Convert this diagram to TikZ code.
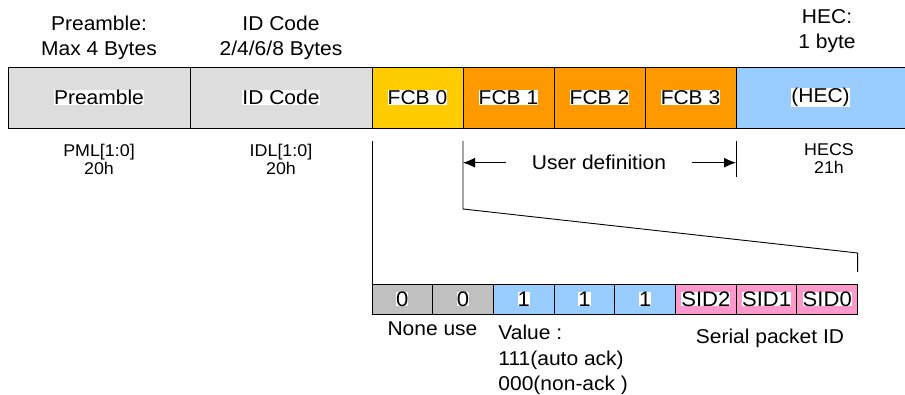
\documentclass[tikz,border=0pt]{standalone}
\usepackage{fontspec}
\setmainfont{Liberation Sans}[FakeStretch=1.05]
\usepackage{xcolor}
\usetikzlibrary{positioning,arrows.meta}

\definecolor{boxgray}{HTML}{DDDDDD}
\definecolor{bitgray}{HTML}{C0C0C0}
\definecolor{fcbyel}{HTML}{FFCC00}
\definecolor{fcborg}{HTML}{FF9900}
\definecolor{hecblue}{HTML}{99CCFF}
\definecolor{sidpink}{HTML}{FF99CC}
\newcommand{\wbg}[1]{{\setlength{\fboxsep}{0pt}\colorbox{white}{#1}}}

\begin{document}
\begin{tikzpicture}[
  x=1pt,y=-1pt,line width=0.9pt,
  field/.style={draw,inner sep=0pt,outer sep=0pt,minimum height=61pt,
  font=\fontsize{20}{24}\selectfont},
  bit/.style={draw,inner sep=0pt,outer sep=0pt,minimum width=60.7pt,
  minimum height=30pt,font=\fontsize{21}{24}\selectfont},
  head/.style={align=center,inner sep=0pt,anchor=north,
  font=\fontsize{20}{24.3}\selectfont},
  reg/.style={align=center,inner sep=0pt,anchor=north,
  font=\fontsize{17}{17.7}\selectfont},
  note/.style={inner sep=0pt,font=\fontsize{20}{25.4}\selectfont},
  arr/.style={-{Latex[length=12pt,width=10pt]}}
]
\useasboundingbox (0,0) rectangle (905,395);
% packet fields
\node[field,fill=boxgray,minimum width=182pt,anchor=north west] (pre) at (8,67) {\wbg{Preamble}};
\node[field,fill=boxgray,minimum width=182pt,right=0pt of pre] (idc) {\wbg{ID Code}};
\node[field,fill=fcbyel,minimum width=91pt,right=0pt of idc] (fcb0) {\wbg{FCB 0}};
\node[field,fill=fcborg,minimum width=91pt,right=0pt of fcb0] (fcb1) {\wbg{FCB 1}};
\node[field,fill=fcborg,minimum width=91pt,right=0pt of fcb1] (fcb2) {\wbg{FCB 2}};
\node[field,fill=fcborg,minimum width=91pt,right=0pt of fcb2] (fcb3) {\wbg{FCB 3}};
\node[field,fill=hecblue,draw=none,minimum width=169pt,right=0pt of fcb3] (hec) {\wbg{(HEC)}};
\draw (hec.north east) -- (hec.north west) -- (hec.south west) -- (hec.south east);

% sizes above
\node[head] (prehead) at (99,16) {Preamble:\\Max 4 Bytes};
\node[head] (idchead) at (281,16) {ID Code\\2/4/6/8 Bytes};
\node[head] (hechead) at (827,9.5) {HEC:\\1 byte};

% registers below
\node[reg] (pml) at (99,144) {PML[1:0]\\20h};
\node[reg] (idl) at (281,144) {IDL[1:0]\\20h};
\node[reg] (hecs) at (829,143) {HECS\\21h};

% FCB0 bits
\node[bit,fill=bitgray,anchor=north west] (b7) at (372,284) {\wbg{0}};
\node[bit,fill=bitgray,right=0pt of b7] (b6) {\wbg{0}};
\node[bit,fill=hecblue,right=0pt of b6] (b5) {\wbg{1}};
\node[bit,fill=hecblue,right=0pt of b5] (b4) {\wbg{1}};
\node[bit,fill=hecblue,right=0pt of b4] (b3) {\wbg{1}};
\node[bit,fill=sidpink,right=0pt of b3] (sid2) {\wbg{SID2}};
\node[bit,fill=sidpink,right=0pt of sid2] (sid1) {\wbg{SID1}};
\node[bit,fill=sidpink,right=0pt of sid1] (sid0) {\wbg{SID0}};

\node[note,anchor=base] (nouse) at (432.5,335) {None use};
\node[note,anchor=north west,align=left] (value) at (498,324.7) {Value :\\111(auto ack)\\000(non-ack )};
\node[note,anchor=base] (serial) at (770,343) {Serial packet ID};

% user definition span
\node[note,minimum width=186pt] (udef) at (599,162.7) {User definition};
\coordinate[below=13pt of fcb0.south west] (v0);
\coordinate[below=13pt of fcb1.south west] (v1);
\coordinate[below=81pt of fcb1.south west] (k1);
\coordinate[below=13pt of fcb3.south east] (v3);
\coordinate[below=49pt of fcb3.south east] (v3b);
\coordinate[above=31pt of sid0.north east] (k2);
\coordinate[above=12pt of sid0.north east] (k3);

\draw (v0) -- (b7.north west);
\draw (v1) -- (k1) -- (k2) -- (k3);
\draw (v3) -- (v3b);
\draw[arr] (udef.west) -- (udef.west -| fcb1.west);
\draw[arr] (udef.east) -- (udef.east -| fcb3.east);
\end{tikzpicture}
\end{document}
